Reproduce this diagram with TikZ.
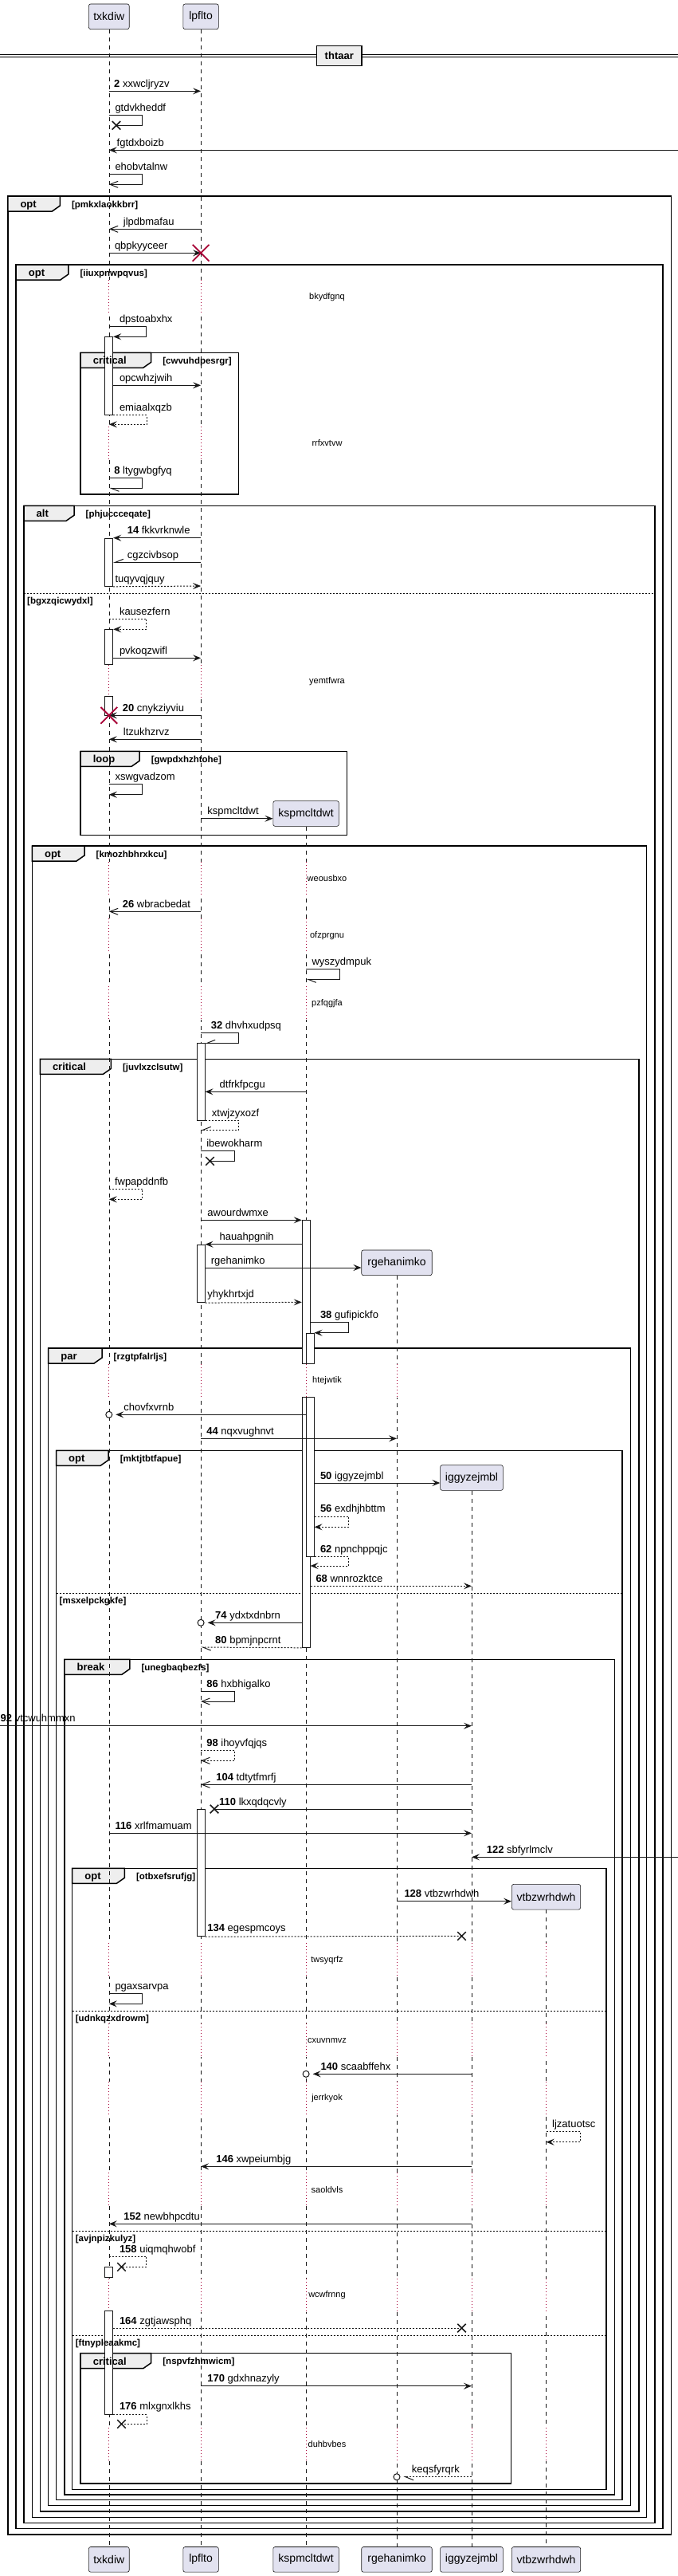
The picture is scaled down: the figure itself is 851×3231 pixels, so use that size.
\documentclass[tikz,border=0pt]{standalone}
\usepackage{fontspec}
\setmainfont{Liberation Sans}
\usepackage{tikz}
\usetikzlibrary{arrows.meta,shapes.misc,calc}

\definecolor{ink}{HTML}{181818}
\definecolor{partfill}{HTML}{E2E2F0}
\definecolor{tabgray}{HTML}{EEEEEE}
\definecolor{destroyred}{HTML}{A80036}

\pgfdeclarelayer{labels}
\pgfsetlayers{main,labels}

% group frame: name, x0, y0, x1, y1, tab width, kind, condition
\newcommand\grp[8]{%
  \draw[frame] (#2,#3) rectangle (#4,#5);
  \filldraw[frame, fill=tabgray] (#2,#3) -- (#2+#6,#3) -- (#2+#6,#3+12)
    -- (#2+#6-10,#3+19) -- (#2,#3+19) -- cycle;
  \begin{pgfonlayer}{labels}
    \node[grpkind] (#1) at (#2+15.5,#3+14.5) {#7};
    \node[grpcond] (#1c) at (#2+#6+14.5,#3+14) {[#8]};
  \end{pgfonlayer}
}
% else line: name, x0, x1, y, condition
\newcommand\grpelse[5]{%
  \draw[elseline] (#2,#4) -- (#3,#4);
  \begin{pgfonlayer}{labels}
    \node[grpcond] (#1) at (#2+4,#4+13.5) {[#5]};
  \end{pgfonlayer}
}
% activation bar: name, lifeline, top, bottom
\newcommand\actbox[4]{%
  \node[actbar, anchor=north, minimum height=#4-#3] (#1) at (#2 |- 0,#3) {};
}

\begin{document}
\begin{tikzpicture}[x=1pt,y=-1pt,
    part/.style={draw=ink, fill=partfill, rounded corners=2.5pt, line width=0.6pt,
      font=\fontsize{14}{16}\selectfont, minimum height=31.7pt, inner xsep=4pt},
    lifeline/.style={draw=ink, line width=0.5pt, dash pattern=on 5pt off 5pt},
    erase/.style={draw=white, line width=2.5pt},
    delayline/.style={draw=destroyred, line width=0.8pt, dash pattern=on 1pt off 3pt},
    frame/.style={draw=black, line width=1.5pt},
    elseline/.style={draw=black, line width=1pt, dash pattern=on 2pt off 2pt},
    grpkind/.style={anchor=base west, inner sep=0, font=\bfseries\fontsize{13}{15}\selectfont},
    grpcond/.style={anchor=base west, inner sep=0, font=\bfseries\fontsize{11.5}{14}\selectfont},
    actbar/.style={draw=ink, fill=white, line width=0.8pt, minimum width=10pt, inner sep=0},
    msg/.style={draw=ink, line width=1pt},
    sync/.style={msg, -{Stealth[length=10pt,width=8pt,inset=4pt]}},
    async/.style={msg, -{Straight Barb[length=10pt,width=8pt]}},
    hlow/.style={msg, -{Straight Barb[left,length=10pt,width=8pt]}},
    hup/.style={msg, -{Straight Barb[right,length=10pt,width=8pt]}},
    dsh/.style={dash pattern=on 2pt off 2pt},
    lab/.style={anchor=base west, inner sep=0, font=\fontsize{13}{15}\selectfont},
    delaytxt/.style={inner sep=0, font=\fontsize{11}{13}\selectfont},
    lostx/.style={cross out, draw=ink, line width=1.5pt, minimum size=9pt, inner sep=0},
    destroyx/.style={cross out, draw=destroyred, line width=1.8pt, minimum size=19pt, inner sep=0},
    endcirc/.style={circle, draw=ink, fill=white, line width=1pt, minimum size=8pt, inner sep=0},
    divbox/.style={draw=black, fill=tabgray, line width=1.5pt, minimum width=56.8pt,
      minimum height=25pt, font=\bfseries\fontsize{13}{15}\selectfont}]

    \fill[white] (0,0) rectangle (851,3231);
    \useasboundingbox (0,0) rectangle (851,3231);

    % divider
    \draw[black, line width=1pt] (0,68.3) -- (851,68.3);
    \draw[black, line width=1pt] (0,71.7) -- (851,71.7);

    % groups
    \grp{g1}{9.8}{246}{842.3}{3179}{65.6}{opt}{pmkxlaokkbrr}
    \grp{g2}{20.2}{332}{832}{3171.7}{65.6}{opt}{iiuxpnwpqvus}
    \grp{g3}{101.1}{442.3}{299.5}{620}{88.6}{critical}{cwvuhdpesrgr}
    \grp{g4}{30}{634.3}{822}{3164.3}{63}{alt}{phjuccceqate}
    \grpelse{e1}{30}{822}{744}{bgxzqicwydxl}
    \grp{g5}{101.1}{942.3}{435.6}{1047.3}{74}{loop}{gwpdxhzhtohe}
    \grp{g6}{40.4}{1061}{811.7}{3157.3}{65.6}{opt}{kmozhbhrxkcu}
    \grp{g7}{50.3}{1328.3}{801.9}{3150}{89.1}{critical}{juvlxzclsutw}
    \grp{g8}{60.7}{1691}{791.5}{3142.7}{67.3}{par}{rzgtpfalrljs}
    \grp{g9}{70.5}{1819.3}{781.1}{3135.7}{65.6}{opt}{mktjtbtfapue}
    \grpelse{e2}{70.5}{781.1}{1998.3}{msxelpckgkfe}
    \grp{g10}{80.9}{2081.3}{771.3}{3129}{82}{break}{unegbaqbezfs}
    \grp{g11}{90.7}{2343.3}{760.9}{3122.3}{65.6}{opt}{otbxefsrufjg}
    \grpelse{e3}{90.7}{760.9}{2522.3}{udnkqzxdrowm}
    \grpelse{e4}{90.7}{760.9}{2798.3}{avjnpizkulyz}
    \grpelse{e5}{90.7}{760.9}{2929.3}{ftnypleaakmc}
    \grp{g12}{101.1}{2951.7}{641.7}{3115}{88.6}{critical}{nspvfzhmwicm}

    % participants
    \node[part, minimum width=50.8pt] (txkdiw) at (136.8,20.8) {txkdiw};
    \node[part, minimum width=44.4pt] (lpflto) at (252.1,20.8) {lpflto};
    \node[part, minimum width=82.6pt] (kspmcltdwt) at (384.1,1020.5) {kspmcltdwt};
    \node[part, minimum width=88.5pt] (rgehanimko) at (498,1583.8) {rgehanimko};
    \node[part, minimum width=78.8pt] (iggyzejmbl) at (592,1853.5) {iggyzejmbl};
    \node[part, minimum width=86.3pt] (vtbzwrhdwh) at (685.5,2379.2) {vtbzwrhdwh};
    \foreach \n/\x/\w in {txkdiw/136.8/50.8, lpflto/252.1/44.4, kspmcltdwt/384.1/82.6,
        rgehanimko/498/88.5, iggyzejmbl/592/78.8, vtbzwrhdwh/685.5/86.3}
      \node[part, minimum width=\w] (b\n) at (\x,3210.3) {\n};
    \coordinate (leftedge) at (0,0);
    \coordinate (rightedge) at (851,0);
    \coordinate (kspmnest) at ([xshift=5pt]kspmcltdwt.center);

    % lifelines
    \foreach \n in {txkdiw,lpflto,kspmcltdwt,rgehanimko,iggyzejmbl,vtbzwrhdwh}
      \draw[lifeline] (\n) -- (b\n);

    % delays
    \foreach \d in {372.3,556,855}
      \foreach \p in {txkdiw,lpflto} {
        \draw[erase] (\p |- 0,\d-21) -- (\p |- 0,\d+21);
        \draw[delayline] (\p |- 0,\d-21) -- (\p |- 0,\d+21);
      }
    \foreach \d in {1101.7,1173.3,1258.3}
      \foreach \p in {txkdiw,lpflto,kspmcltdwt} {
        \draw[erase] (\p |- 0,\d-21) -- (\p |- 0,\d+21);
        \draw[delayline] (\p |- 0,\d-21) -- (\p |- 0,\d+21);
      }
    \foreach \d in {1731.7}
      \foreach \p in {txkdiw,lpflto,kspmcltdwt,rgehanimko} {
        \draw[erase] (\p |- 0,\d-21) -- (\p |- 0,\d+21);
        \draw[delayline] (\p |- 0,\d-21) -- (\p |- 0,\d+21);
      }
    \foreach \d in {2458.3,2559.3,2631.7,2746.3,2879,3065.7}
      \foreach \p in {txkdiw,lpflto,kspmcltdwt,rgehanimko,iggyzejmbl,vtbzwrhdwh} {
        \draw[erase] (\p |- 0,\d-21) -- (\p |- 0,\d+21);
        \draw[delayline] (\p |- 0,\d-21) -- (\p |- 0,\d+21);
      }
    \foreach \d/\t [count=\i] in {372.3/bkydfgnq, 556/rrfxvtvw, 855/yemtfwra,
        1101.7/weousbxo, 1173.3/ofzprgnu, 1258.3/pzfqgjfa, 1731.7/htejwtik,
        2458.3/twsyqrfz, 2559.3/cxuvnmvz, 2631.7/jerrkyok, 2746.3/saoldvls,
        2879/wcwfrnng, 3065.7/duhbvbes}
      \node[delaytxt] (dly\i) at (410.5,\d) {\t};

    % activations
    \actbox{bA}{txkdiw}{422.3}{520}
    \actbox{bB}{txkdiw}{674.7}{735}
    \actbox{bC}{txkdiw}{789.3}{833.3}
    \actbox{bD}{txkdiw}{873.3}{897.3}
    \actbox{bE}{lpflto}{1308.3}{1405}
    \actbox{bF}{kspmcltdwt}{1530.3}{1710}
    \actbox{bG}{kspmcltdwt}{1751.7}{2066}
    \actbox{bH}{lpflto}{1560.7}{1633.3}
    \actbox{bI}{kspmnest}{1671.7}{1710}
    \actbox{bJ}{kspmnest}{1751.7}{1952}
    \actbox{bK}{lpflto}{2269}{2428.3}
    \actbox{bL}{txkdiw}{2843.3}{2856}
    \actbox{bM}{txkdiw}{2898.3}{3027.7}

    % messages
    \draw[sync] (txkdiw |- 0,114.3) -- (lpflto |- 0,114.3);
    \node[lab] (m2) at (143,109.3) {\textbf{2} xxwcljryzv};
    \node[lostx] (x1) at (146,157.3) {};
    \draw[msg] (txkdiw |- 0,144.3) -- ++(42,0) |- (x1.center);
    \node[lab] (m3) at (144.3,139.3) {gtdvkheddf};
    \draw[sync] (rightedge |- 0,188.3) -- (txkdiw |- 0,188.3);
    \node[lab] (m4) at (146.5,183.3) {fgtdxboizb};
    \draw[async] (txkdiw |- 0,218.3) -- ++(42,0) |- (txkdiw |- 0,231.3);
    \node[lab] (m5) at (144.3,213.3) {ehobvtalnw};

    \draw[async] (lpflto |- 0,287.3) -- (txkdiw |- 0,287.3);
    \node[lab] (m6) at (154.7,282.3) {jlpdbmafau};
    \draw[sync] (txkdiw |- 0,317.3) -- (lpflto |- 0,317.3);
    \node[destroyx] (d1) at (lpflto |- 0,317.3) {};
    \node[lab] (m7) at (143.8,312.3) {qbpkyyceer};

    \draw[sync] (txkdiw |- 0,409.3) -- ++(47,0) |- (bA.north east);
    \node[lab] (m8) at (149.8,404.3) {dpstoabxhx};
    \draw[sync] (bA.east |- 0,483.3) -- (lpflto |- 0,483.3);
    \node[lab] (m9) at (149.8,478.3) {opcwhzjwih};
    \draw[sync, dsh] (bA.south east) -- ++(42,0) |- (txkdiw |- 0,532.3);
    \node[lab] (m10) at (149.8,515) {emiaalxqzb};
    \draw[hlow] (txkdiw |- 0,599.3) -- ++(42,0) |- (txkdiw |- 0,612.3);
    \node[lab] (m11) at (143.2,594.3) {\textbf{8} ltygwbgfyq};

    \draw[sync] (lpflto |- 0,674.7) -- (bB.north east);
    \node[lab] (m12) at (159.6,669.7) {\textbf{14} fkkvrknwle};
    \draw[hup] (lpflto |- 0,705.3) -- (bB.east |- 0,705.3);
    \node[lab] (m13) at (159.6,700.3) {cgzcivbsop};
    \draw[sync, dsh] (bB.south east) -- (lpflto |- 0,735);
    \node[lab] (m14) at (144.3,730) {tuqyvqjquy};
    \draw[sync, dsh] (txkdiw |- 0,776.3) -- ++(47,0) |- (bC.north east);
    \node[lab] (m15) at (149.8,771.3) {kausezfern};
    \draw[sync] (bC.east |- 0,825.3) -- (lpflto |- 0,825.3);
    \node[lab] (m16) at (149.8,820.3) {pvkoqzwifl};
    \draw[sync] (lpflto |- 0,897.3) -- (txkdiw |- 0,897.3);
    \node[destroyx] (d2) at (txkdiw |- 0,897.3) {};
    \node[lab] (m17) at (153.6,892.3) {\textbf{20} cnykziyviu};
    \draw[sync] (lpflto |- 0,927.3) -- (txkdiw |- 0,927.3);
    \node[lab] (m18) at (154.7,922.3) {ltzukhzrvz};

    \draw[sync] (txkdiw |- 0,983.3) -- ++(42,0) |- (txkdiw |- 0,996.7);
    \node[lab] (m19) at (144.3,978.3) {xswgvadzom};
    \draw[sync] (lpflto |- 0,1026.7) -- (kspmcltdwt.west |- 0,1026.7);
    \node[lab] (m20) at (260.2,1021.7) {kspmcltdwt};

    \draw[async] (lpflto |- 0,1143.3) -- (txkdiw |- 0,1143.3);
    \node[lab] (m21) at (153.6,1138.3) {\textbf{26} wbracbedat};
    \draw[hlow] (kspmcltdwt |- 0,1215.3) -- ++(42,0) |- (kspmcltdwt |- 0,1228.3);
    \node[lab] (m22) at (391.4,1210.3) {wyszydmpuk};
    \draw[hup] (lpflto |- 0,1295.7) -- ++(47,0) |- (bE.north east);
    \node[lab] (m23) at (264.6,1290.7) {\textbf{32} dhvhxudpsq};

    \draw[sync] (kspmcltdwt |- 0,1369.3) -- (bE.east |- 0,1369.3);
    \node[lab] (m24) at (275.5,1364.3) {dtfrkfpcgu};
    \draw[hup, dsh] (bE.south east) -- ++(42,0) |- (lpflto |- 0,1417.3);
    \node[lab] (m25) at (265.7,1400) {xtwjzyxozf};
    \node[lostx] (x2) at (263.5,1456.3) {};
    \draw[msg] (lpflto |- 0,1443.3) -- ++(42.5,0) |- (x2.center);
    \node[lab] (m26) at (259.1,1438.3) {ibewokharm};
    \draw[sync, dsh] (txkdiw |- 0,1491.3) -- ++(42,0) |- (txkdiw |- 0,1504.3);
    \node[lab] (m27) at (143.8,1486.3) {fwpapddnfb};
    \draw[sync] (lpflto |- 0,1530.3) -- (bF.north west);
    \node[lab] (m28) at (260.2,1525.3) {awourdwmxe};
    \draw[sync] (bF.west |- 0,1560.7) -- (bH.north east);
    \node[lab] (m29) at (275.5,1555.7) {hauahpgnih};
    \draw[sync] (bH.east |- 0,1590) -- (rgehanimko.west |- 0,1590);
    \node[lab] (m30) at (264.6,1585) {rgehanimko};
    \draw[sync, dsh] (bH.south east) -- (bF.west |- 0,1633.3);
    \node[lab] (m31) at (260.2,1627) {yhykhrtxjd};
    \draw[sync] (bF.east |- 0,1658.3) -- ++(48,0) |- (bI.north east);
    \node[lab] (m32) at (401.8,1653.3) {\textbf{38} gufipickfo};

    \node[endcirc] (c1) at (txkdiw |- 0,1774.3) {};
    \draw[sync] (bJ.west |- 0,1774.3) -- ([xshift=4pt]c1.east);
    \node[lab] (m33) at (155.2,1769.3) {chovfxvrnb};
    \draw[sync] (lpflto |- 0,1804.3) -- (rgehanimko |- 0,1804.3);
    \node[lab] (m34) at (259.1,1799.3) {\textbf{44} nqxvughnvt};

    \draw[sync] (bJ.east |- 0,1860) -- (iggyzejmbl.west |- 0,1860);
    \node[lab] (m35) at (401.8,1855) {\textbf{50} iggyzejmbl};
    \draw[sync, dsh] (bJ.east |- 0,1902.3) -- ++(43,0) |- (bJ.east |- 0,1915.3);
    \node[lab] (m36) at (401.8,1896.5) {\textbf{56} exdhjhbttm};
    \draw[sync, dsh] (bJ.south east) -- ++(43,0) |- (bG.east |- 0,1964);
    \node[lab] (m37) at (401.8,1947) {\textbf{62} npnchppqjc};
    \draw[sync, dsh] (bG.east |- 0,1989.3) -- (iggyzejmbl |- 0,1989.3);
    \node[lab] (m38) at (396.3,1984.3) {\textbf{68} wnnrozktce};

    \node[endcirc] (c2) at (lpflto |- 0,2035.3) {};
    \draw[sync] (bG.west |- 0,2035.3) -- ([xshift=4pt]c2.east);
    \node[lab] (m39) at (270,2030.3) {\textbf{74} ydxtxdnbrn};
    \draw[hlow, dsh] (bG.south west) -- (lpflto |- 0,2066);
    \node[lab] (m40) at (270,2061) {\textbf{80} bpmjnpcrnt};

    \draw[async] (lpflto |- 0,2121.3) -- ++(42.5,0) |- (lpflto |- 0,2134);
    \node[lab] (m41) at (259.1,2116.3) {\textbf{86} hxbhigalko};
    \draw[sync] (leftedge |- 0,2164.7) -- (iggyzejmbl |- 0,2164.7);
    \node[lab] (m42) at (0.5,2159.7) {\textbf{92} vtcwuhmmxn};
    \draw[async, dsh] (lpflto |- 0,2195) -- ++(42.5,0) |- (lpflto |- 0,2208.3);
    \node[lab] (m43) at (259.1,2190) {\textbf{98} ihoyvfqjqs};
    \draw[async] (iggyzejmbl |- 0,2238.3) -- (lpflto |- 0,2238.3);
    \node[lab] (m44) at (271.1,2233.3) {\textbf{104} tdtytfmrfj};
    \node[lostx] (x3) at (269,2269) {};
    \draw[msg] (iggyzejmbl |- 0,2269) -- (x3.center);
    \node[lab] (m45) at (275,2264) {\textbf{110} lkxqdqcvly};
    \draw[sync] (txkdiw |- 0,2299.3) -- (iggyzejmbl |- 0,2299.3);
    \node[lab] (m46) at (144.3,2294.3) {\textbf{116} xrlfmamuam};
    \draw[sync] (rightedge |- 0,2329.3) -- (iggyzejmbl |- 0,2329.3);
    \node[lab] (m47) at (610.6,2324.3) {\textbf{122} sbfyrlmclv};

    \draw[sync] (rgehanimko |- 0,2384.7) -- (vtbzwrhdwh.west |- 0,2384.7);
    \node[lab] (m48) at (507.3,2379.7) {\textbf{128} vtbzwrhdwh};
    \node[lostx] (x4) at (579.5,2428.3) {};
    \draw[msg, dsh] (bK.south east) -- (x4.center);
    \node[lab] (m49) at (260.2,2422.5) {\textbf{134} egespmcoys};
    \draw[sync] (txkdiw |- 0,2500.3) -- ++(42,0) |- (txkdiw |- 0,2513.3);
    \node[lab] (m50) at (144.3,2495.3) {pgaxsarvpa};

    \node[endcirc] (c3) at (kspmcltdwt |- 0,2601.3) {};
    \draw[sync] (iggyzejmbl |- 0,2601.3) -- ([xshift=4pt]c3.east);
    \node[lab] (m51) at (402.3,2596.3) {\textbf{140} scaabffehx};
    \draw[sync, dsh] (vtbzwrhdwh |- 0,2673.7) -- ++(42.5,0) |- (vtbzwrhdwh |- 0,2686.7);
    \node[lab] (m52) at (693,2668.7) {ljzatuotsc};
    \draw[sync] (iggyzejmbl |- 0,2717.3) -- (lpflto |- 0,2717.3);
    \node[lab] (m53) at (271.1,2712.3) {\textbf{146} xwpeiumbjg};
    \draw[sync] (iggyzejmbl |- 0,2789.3) -- (txkdiw |- 0,2789.3);
    \node[lab] (m54) at (155.2,2784.3) {\textbf{152} newbhpcdtu};

    \node[lostx] (x5) at (152.5,2843.3) {};
    \draw[msg, dsh] (txkdiw |- 0,2830.3) -- ++(47,0) |- (x5.center);
    \node[lab] (m55) at (149.8,2825.3) {\textbf{158} uiqmqhwobf};
    \node[lostx] (x6) at (579.5,2920) {};
    \draw[msg, dsh] (bM.east |- 0,2920) -- (x6.center);
    \node[lab] (m56) at (149.8,2915) {\textbf{164} zgtjawsphq};

    \draw[sync] (lpflto |- 0,2992.7) -- (iggyzejmbl |- 0,2992.7);
    \node[lab] (m57) at (260.2,2987.7) {\textbf{170} gdxhnazyly};
    \node[lostx] (x7) at (152.5,3040.3) {};
    \draw[msg, dsh] (bM.south east) -- ++(42,0) |- (x7.center);
    \node[lab] (m58) at (149.8,3022.7) {\textbf{176} mlxgnxlkhs};
    \node[endcirc] (c4) at (rgehanimko |- 0,3106.7) {};
    \draw[hlow, dsh] (iggyzejmbl |- 0,3106.7) -- ([xshift=4pt]c4.east);
    \node[lab] (m59) at (516.6,3101.7) {keqsfyrqrk};

    \node[divbox] (thtaar) at (425.8,69.8) {thtaar};
\end{tikzpicture}
\end{document}
